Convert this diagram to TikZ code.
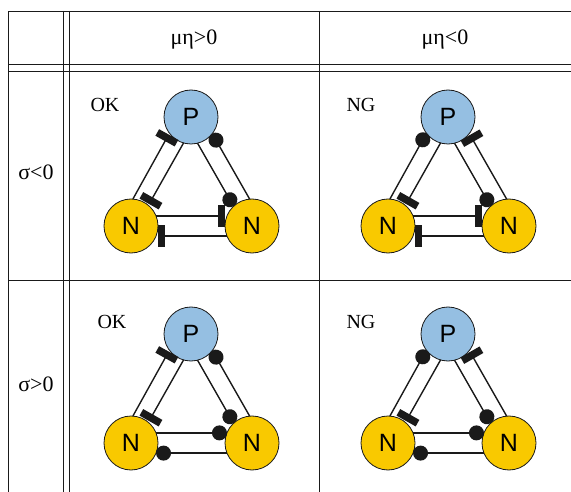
\documentclass[tikz,border=0pt]{standalone}
\usepackage{fontspec}
\setmainfont{Liberation Serif}
\newfontfamily\nodefont{Liberation Sans}
\usetikzlibrary{arrows.meta}
\definecolor{pblue}{HTML}{95BFE2}
\definecolor{ngold}{HTML}{F9C900}
\definecolor{inkdark}{HTML}{1A1A1A}
\tikzset{
  pnode/.style={circle,draw=inkdark,line width=0.8pt,fill=pblue,minimum size=54pt,inner sep=0pt,outer sep=0pt,font=\nodefont\fontsize{25}{25}\selectfont},
  nnode/.style={circle,draw=inkdark,line width=0.8pt,fill=ngold,minimum size=54pt,inner sep=0pt,outer sep=0pt,font=\nodefont\fontsize{25}{25}\selectfont},
  conn/.style={draw=inkdark,line width=1.4pt},
  inh/.style={-{Rectangle[length=7.5pt,width=22pt]},shorten >=1.5pt},
  act/.style={-{Circle[length=15pt]}},
  grid/.style={draw=inkdark,line width=0.9pt},
  txt/.style={font=\fontsize{22}{22}\selectfont,inner sep=0pt},
  lbl/.style={font=\fontsize{20}{20}\selectfont,inner sep=0pt}
}
\newcommand\mytrio[9]{%
  \node[pnode] (#1P) at (#2,#3) {P};
  \node[nnode] (#1L) at (#2-60,#3+109) {N};
  \node[nnode] (#1R) at (#2+61,#3+109) {N};
  \draw[conn,#4] (#1L.86) -- (#1P.217);
  \draw[conn,#5] (#1P.254) -- (#1L.50);
  \draw[conn,#6] (#1R.95) -- (#1P.322);
  \draw[conn,#7] (#1P.284) -- (#1R.133);
  \draw[conn,#8] (#1L.22) -- (#1R.158);
  \draw[conn,#9] (#1R.202) -- (#1L.338);
}
\begin{document}
\begin{tikzpicture}[x=1pt,y=-1pt]
\useasboundingbox[fill=white] (0,0) rectangle (571,492);
% table
\draw[grid] (571,11) -- (8,11) -- (8,492);
\draw[grid] (63,11) -- (63,492);
\draw[grid] (69,11) -- (69,492);
\draw[grid] (319,11) -- (319,492);
\draw[grid] (8,64) -- (571,64);
\draw[grid] (8,71) -- (571,71);
\draw[grid] (8,280) -- (571,280);
% headers
\node[txt] (h1) at (194,40) {μη>0};
\node[txt] (h2) at (445,40) {μη<0};
\node[txt] (r1) at (36,172) {σ<0};
\node[txt] (r2) at (36,384) {σ>0};
% cell labels
\node[lbl] (l1) at (105,105) {OK};
\node[lbl] (l2) at (361,105) {NG};
\node[lbl] (l3) at (112,322) {OK};
\node[lbl] (l4) at (361,322) {NG};
% diagrams
\mytrio{a}{191}{117}{inh}{inh}{act}{act}{inh}{inh}
\mytrio{b}{448}{117}{act}{inh}{inh}{act}{inh}{inh}
\mytrio{c}{191}{334}{inh}{inh}{act}{act}{act}{act}
\mytrio{d}{448}{334}{act}{inh}{inh}{act}{act}{act}
\end{tikzpicture}
\end{document}
